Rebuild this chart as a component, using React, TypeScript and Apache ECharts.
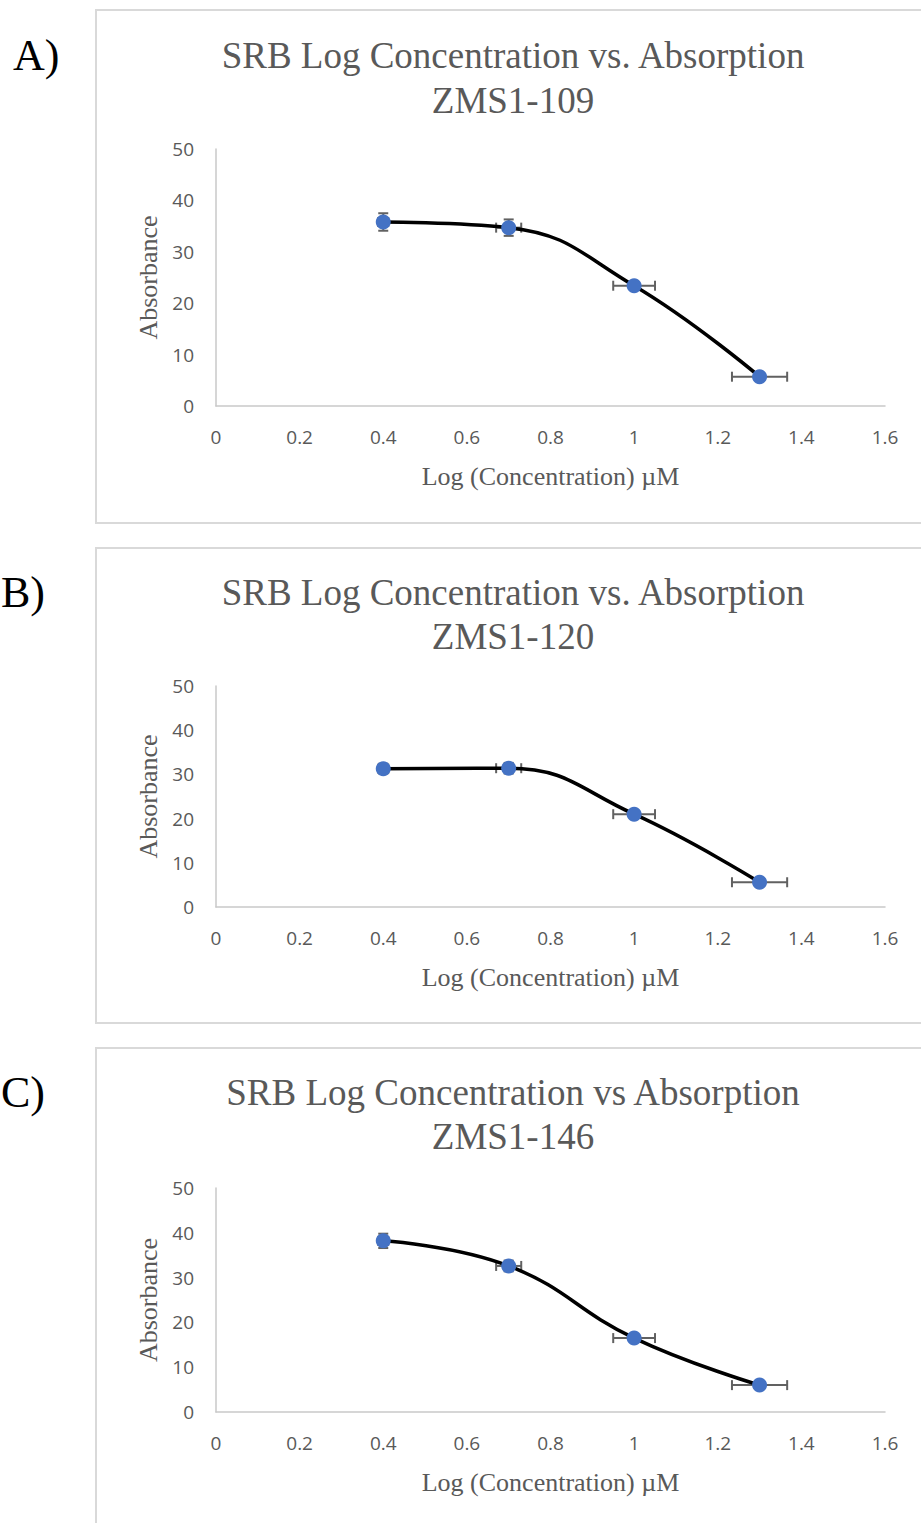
import React, { useEffect, useRef } from "react";
import * as echarts from "echarts";

// ---- Data ----
const panelLabels = ["A)", "B)", "C)"];
const titleLine1 = [
  "SRB Log Concentration vs. Absorption",
  "SRB Log Concentration vs. Absorption",
  "SRB Log Concentration vs Absorption",
];
const titleLine2 = ["ZMS1-109", "ZMS1-120", "ZMS1-146"];
const xTicks = [0, 0.2, 0.4, 0.6, 0.8, 1, 1.2, 1.4, 1.6];
const yTicks = [0, 10, 20, 30, 40, 50];
const logConc = [0.4, 0.7, 1.0, 1.3];

const absA = [35.8, 34.7, 23.4, 5.7];
const xErrA = [0.012, 0.03, 0.05, 0.066];
const yErrA = [1.7, 1.6, 0.6, 0.3];

const absB = [31.3, 31.4, 21.0, 5.6];
const xErrB = [0.012, 0.03, 0.05, 0.066];
const yErrB = [1.1, 1.2, 0.6, 0.3];

const absC = [38.2, 32.6, 16.5, 6.0];
const xErrC = [0.012, 0.03, 0.05, 0.066];
const yErrC = [1.6, 1.2, 0.5, 0.3];

const seriesValues = [absA, absB, absC];
const xErrors = [xErrA, xErrB, xErrC];
const yErrors = [yErrA, yErrB, yErrC];

// ---- Layout (positions / styles) ----
const layout = [
  { boxTop: 10, boxH: 513, gridTop: 149, gridH: 257, t1: 55, t2: 100, labelLeft: 13, labelY: 55 },
  { boxTop: 548, boxH: 475, gridTop: 686, gridH: 221, t1: 592, t2: 636, labelLeft: 1, labelY: 592 },
  { boxTop: 1048, boxH: 520, gridTop: 1188, gridH: 224, t1: 1092, t2: 1136, labelLeft: 1, labelY: 1092 },
];
const GRID_LEFT = 216;
const GRID_WIDTH = 669;
const GREY_TEXT = "#595959";
const AXIS_COLOR = "#c9c9c9";
const ERR_COLOR = "#616161";
const MARKER = "#4472C4";
const SERIF = "'Liberation Serif', 'Times New Roman', serif";
const SANS = "'Open Sans', 'Liberation Sans', sans-serif";

function errorRenderItem(params: any, api: any) {
  const x = api.value(0);
  const y = api.value(1);
  const xe = api.value(2);
  const ye = api.value(3);
  const c = api.coord([x, y]);
  const l = api.coord([x - xe, y]);
  const r = api.coord([x + xe, y]);
  const t = api.coord([x, y + ye]);
  const b = api.coord([x, y - ye]);
  const cap = 5;
  const style = { stroke: ERR_COLOR, lineWidth: 2 };
  return {
    type: "group",
    children: [
      { type: "line", shape: { x1: l[0], y1: c[1], x2: r[0], y2: c[1] }, style },
      { type: "line", shape: { x1: l[0], y1: c[1] - cap, x2: l[0], y2: c[1] + cap }, style },
      { type: "line", shape: { x1: r[0], y1: c[1] - cap, x2: r[0], y2: c[1] + cap }, style },
      { type: "line", shape: { x1: c[0], y1: t[1], x2: c[0], y2: b[1] }, style },
      { type: "line", shape: { x1: c[0] - cap, y1: t[1], x2: c[0] + cap, y2: t[1] }, style },
      { type: "line", shape: { x1: c[0] - cap, y1: b[1], x2: c[0] + cap, y2: b[1] }, style },
    ],
  };
}

export default function App() {
  const ref = useRef<HTMLDivElement>(null);

  useEffect(() => {
    if (!ref.current) return;
    const chart = echarts.init(ref.current, undefined, { renderer: "svg" });

    const grids: any[] = [];
    const xAxes: any[] = [];
    const yAxes: any[] = [];
    const series: any[] = [];
    const graphics: any[] = [];

    layout.forEach((p, i) => {
      grids.push({ left: GRID_LEFT, top: p.gridTop, width: GRID_WIDTH, height: p.gridH, containLabel: false });
      xAxes.push({
        type: "value",
        gridIndex: i,
        min: xTicks[0],
        max: xTicks[xTicks.length - 1],
        interval: xTicks[1] - xTicks[0],
        name: "Log (Concentration) µM",
        nameLocation: "middle",
        nameGap: 57,
        nameTextStyle: { fontFamily: SERIF, fontSize: 26, color: GREY_TEXT },
        axisLine: { show: true, onZero: false, lineStyle: { color: AXIS_COLOR, width: 1.5 } },
        axisTick: { show: false },
        splitLine: { show: false },
        axisLabel: { fontFamily: SANS, fontSize: 19, color: GREY_TEXT, margin: 21 },
      });
      yAxes.push({
        type: "value",
        gridIndex: i,
        min: yTicks[0],
        max: yTicks[yTicks.length - 1],
        interval: yTicks[1] - yTicks[0],
        name: "Absorbance",
        nameLocation: "middle",
        nameGap: 55,
        nameTextStyle: { fontFamily: SERIF, fontSize: 26, color: GREY_TEXT },
        axisLine: { show: true, lineStyle: { color: AXIS_COLOR, width: 1.5 } },
        axisTick: { show: false },
        splitLine: { show: false },
        axisLabel: { fontFamily: SANS, fontSize: 19, color: GREY_TEXT, margin: 22 },
      });

      series.push({
        type: "custom",
        xAxisIndex: i,
        yAxisIndex: i,
        z: 2,
        renderItem: errorRenderItem,
        encode: { x: 0, y: 1 },
        data: logConc.map((x, k) => [x, seriesValues[i][k], xErrors[i][k], yErrors[i][k]]),
      });
      series.push({
        type: "line",
        xAxisIndex: i,
        yAxisIndex: i,
        z: 3,
        smooth: 0.45,
        symbol: "circle",
        symbolSize: 15,
        itemStyle: { color: MARKER },
        lineStyle: { color: "#000000", width: 3.5 },
        data: logConc.map((x, k) => [x, seriesValues[i][k]]),
      });

      graphics.push({
        type: "rect",
        z: 0,
        shape: { x: 96, y: p.boxTop, width: 900, height: p.boxH },
        style: { fill: "none", stroke: "#d9d9d9", lineWidth: 2 },
      });
      graphics.push({
        type: "text",
        x: 513,
        y: p.t1,
        style: { text: titleLine1[i], fontFamily: SERIF, fontSize: 37, fill: GREY_TEXT, textAlign: "center", textVerticalAlign: "middle" },
      });
      graphics.push({
        type: "text",
        x: 513,
        y: p.t2,
        style: { text: titleLine2[i], fontFamily: SERIF, fontSize: 37, fill: GREY_TEXT, textAlign: "center", textVerticalAlign: "middle" },
      });
      graphics.push({
        type: "text",
        x: p.labelLeft,
        y: p.labelY,
        style: { text: panelLabels[i], fontFamily: SERIF, fontSize: 44, fill: "#000000", textAlign: "left", textVerticalAlign: "middle" },
      });
    });

    chart.setOption({
      animation: false,
      backgroundColor: "#ffffff",
      grid: grids,
      xAxis: xAxes,
      yAxis: yAxes,
      series,
      graphic: graphics,
    });

    return () => chart.dispose();
  }, []);

  return (
    <div
      ref={ref}
      style={{ position: "absolute", left: 0, top: 0, width: 921, height: 1523 }}
    />
  );
}
